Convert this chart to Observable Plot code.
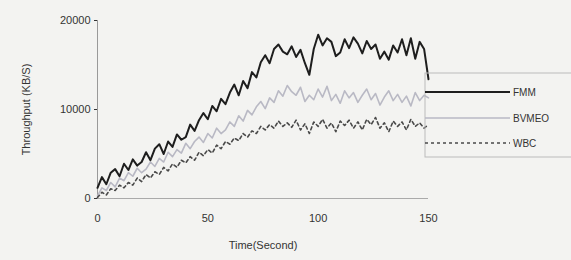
<!DOCTYPE html>
<html><head><meta charset="utf-8">
<script src="https://cdn.jsdelivr.net/npm/d3@7"></script>
<script src="https://cdn.jsdelivr.net/npm/@observablehq/plot@0.6"></script>
<style>
html,body{margin:0;padding:0;background:#f3f3f1;}
#wrap{position:relative;width:571px;height:260px;}
#legend{position:absolute;left:0;top:0;}
</style>
</head><body><div id="wrap"></div>
<script>
const time = [0,2,4,6,8,10,12,14,16,18,20,22,24,26,28,30,32,34,36,38,40,42,44,46,48,50,52,54,56,58,60,62,64,66,68,70,72,74,76,78,80,82,84,86,88,90,92,94,96,98,100,102,104,106,108,110,112,114,116,118,120,122,124,126,128,130,132,134,136,138,140,142,144,146,148,150];
const fmm = [1200,2400,1600,2900,3300,2500,3900,3200,4400,3700,4100,5200,4300,5600,6100,5000,6400,5800,7200,6600,6900,8300,7600,8800,9600,8900,10400,9800,11200,10600,11900,12800,11600,13200,12400,14200,13600,15300,16100,15200,16800,17300,16500,16200,17100,15900,16700,15200,13900,16800,18400,17200,18000,17600,16000,16400,17900,16900,18100,17400,16300,17700,16800,17300,15700,16500,15600,17200,16400,17900,16100,18000,15700,17600,16800,13400];
const bvmeo = [300,1200,900,1800,1300,2300,2000,2900,2500,3400,2900,3300,4100,3600,4500,4100,5200,4700,5500,5100,6200,5600,6400,6900,6300,7300,6800,7900,7300,7700,8600,8100,9300,8700,9900,9400,10300,10900,10100,11300,10800,12100,11500,12700,12000,11600,12500,10900,11600,11100,12300,11400,12600,11000,11700,10700,12100,11300,11900,10800,11600,12300,11100,11800,10500,11400,12100,11000,11700,10800,11500,10400,11900,11000,11600,11300];
const wbc = [100,700,400,1100,900,1500,1200,1800,1500,2300,1900,2700,2300,3000,2700,3500,3100,3900,3500,4300,4000,4700,4300,5200,4800,5500,5100,6000,5600,6400,6100,6800,6500,7300,6900,7600,7300,8100,7700,8300,7900,8700,8100,8500,8000,8800,7700,8400,7300,8600,8100,8900,7900,8500,7500,8700,8200,8800,7900,8600,7700,8900,8300,9100,7900,8500,7500,8700,8100,8600,7700,8900,8100,8500,7900,8300];
const seriesNames = ["FMM","BVMEO","WBC"];
const xTicks = [0,50,100,150];
const yTicks = [0,10000,20000];

const styles = {
  FMM:{stroke:"#1e1e1e",w:2,dash:null},
  BVMEO:{stroke:"#b9b9c4",w:1.6,dash:null},
  WBC:{stroke:"#4a4a4a",w:1.6,dash:"3,3"}
};
const vals = {FMM:fmm,BVMEO:bvmeo,WBC:wbc};
const rows = (name)=>time.map((t,i)=>({t,v:vals[name][i]}));

const font = "Liberation Sans, Arial, sans-serif";
const chart = Plot.plot({
  width:571, height:260,
  marginLeft:97, marginRight:143, marginTop:20, marginBottom:62,
  style:{background:"transparent", fontFamily:font, fontSize:"11px", color:"#333"},
  x:{domain:[0,150], ticks:xTicks, tickFormat:d=>String(d), tickSize:0, tickPadding:16,
     label:"Time(Second)", labelAnchor:"center", labelOffset:50, labelArrow:"none"},
  y:{domain:[0,20000], ticks:yTicks, tickFormat:d=>String(d), tickSize:3, tickPadding:4,
     label:"Throughput (KB/S)", labelAnchor:"center", labelOffset:75, labelArrow:"none"},
  marks:[
    Plot.ruleX([0],{stroke:"#999"}),
    Plot.ruleY([0],{stroke:"#aaa"}),
    ...["BVMEO","WBC","FMM"].map(n=>Plot.line(rows(n),{x:"t",y:"v",stroke:styles[n].stroke,strokeWidth:styles[n].w,strokeDasharray:styles[n].dash}))
  ]
});
document.getElementById("wrap").appendChild(chart);

// Legend (boxed, at right)
const lg = d3.select("#wrap").append("svg").attr("id","legend").attr("width",571).attr("height",260);
lg.append("rect").attr("x",425).attr("y",73).attr("width",160).attr("height",84)
  .attr("fill","none").attr("stroke","#bbb");
const ly = [92,118,143];
seriesNames.forEach((n,i)=>{
  lg.append("line").attr("x1",425).attr("x2",510).attr("y1",ly[i]).attr("y2",ly[i])
    .attr("stroke",styles[n].stroke).attr("stroke-width",styles[n].w)
    .attr("stroke-dasharray",styles[n].dash);
  lg.append("text").attr("x",513).attr("y",ly[i]).attr("dy","0.35em")
    .attr("font-family",font).attr("font-size",10).attr("fill","#333").text(n);
});
</script>
</body></html>
